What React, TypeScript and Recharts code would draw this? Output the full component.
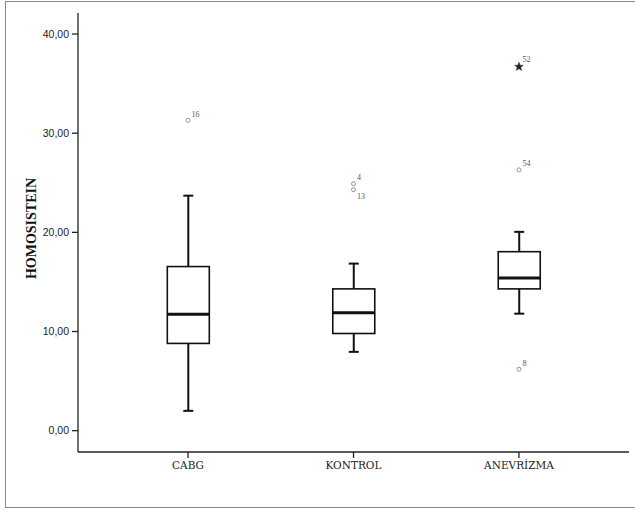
import React from 'react';
import { ComposedChart, Bar, Scatter, XAxis, YAxis } from 'recharts';

const categories = ['CABG', 'KONTROL', 'ANEVRİZMA'];
const whiskerLow = [2.0, 7.95, 11.8];
const quartile1 = [8.8, 9.8, 14.3];
const medians = [11.75, 11.9, 15.4];
const quartile3 = [16.55, 14.3, 18.05];
const whiskerHigh = [23.7, 16.85, 20.05];

const outlierGroup = [1, 2, 2, 3, 3, 3];
const outlierValues = [31.3, 24.9, 24.3, 36.7, 26.3, 6.2];
const outlierIds = ['16', '4', '13', '52', '54', '8'];
const outlierExtreme = [false, false, false, true, false, false];

const yTicks = [0, 10, 20, 30, 40];
const xTicks = [1, 2, 3];

const boxData = categories.map((c, i) => ({
  x: i + 1,
  name: c,
  range: [quartile1[i], quartile3[i]],
  lo: whiskerLow[i],
  q1: quartile1[i],
  med: medians[i],
  q3: quartile3[i],
  hi: whiskerHigh[i],
}));

const outlierData = outlierValues.map((v, i) => ({
  x: outlierGroup[i],
  y: v,
  id: outlierIds[i],
  extreme: outlierExtreme[i],
}));

const BoxShape = (props: any) => {
  const { x, y, width, height, payload } = props;
  const top = Math.min(y, y + height);
  const h = Math.abs(height);
  const k = h / (payload.q3 - payload.q1);
  const cx = x + width / 2;
  const yMed = top + (payload.q3 - payload.med) * k;
  const yHi = top - (payload.hi - payload.q3) * k;
  const yLo = top + h + (payload.q1 - payload.lo) * k;
  const cap = 5;
  return (
    <g>
      <line x1={cx} x2={cx} y1={yHi} y2={top} stroke="#111" strokeWidth={2} />
      <line x1={cx} x2={cx} y1={top + h} y2={yLo} stroke="#111" strokeWidth={2} />
      <line x1={cx - cap} x2={cx + cap} y1={yHi} y2={yHi} stroke="#111" strokeWidth={2} />
      <line x1={cx - cap} x2={cx + cap} y1={yLo} y2={yLo} stroke="#111" strokeWidth={2} />
      <rect x={x} y={top} width={width} height={h} fill="#fff" stroke="#111" strokeWidth={1.6} />
      <line x1={x} x2={x + width} y1={yMed} y2={yMed} stroke="#111" strokeWidth={3} />
    </g>
  );
};

const starPoints = (cx: number, cy: number, ro: number, ri: number) => {
  const pts: string[] = [];
  for (let i = 0; i < 10; i++) {
    const r = i % 2 === 0 ? ro : ri;
    const a = -Math.PI / 2 + (i * Math.PI) / 5;
    pts.push(`${cx + r * Math.cos(a)},${cy + r * Math.sin(a)}`);
  }
  return pts.join(' ');
};

const OutlierShape = (props: any) => {
  const { cx, cy, payload } = props;
  const below = payload.id === '13';
  return (
    <g>
      {payload.extreme ? (
        <polygon points={starPoints(cx, cy, 4.5, 1.9)} fill="#222" stroke="#222" strokeWidth={0.5} />
      ) : (
        <circle cx={cx} cy={cy} r={2} fill="#fff" stroke="#888" strokeWidth={0.9} />
      )}
      <text
        x={cx + 3.5}
        y={below ? cy + 9.5 : cy - (payload.extreme ? 5 : 3.5)}
        fontFamily="'Liberation Serif', serif"
        fontSize={8}
        fill="#555"
        stroke="none"
      >
        {payload.id}
      </text>
    </g>
  );
};

const fmt = (v: number) => v.toFixed(2).replace('.', ',');

export default function App() {
  return (
    <div style={{ position: 'absolute', left: 0, top: 0, width: 635, height: 513, overflow: 'hidden', background: '#fff' }}>
      <div
        style={{
          position: 'absolute',
          left: 5,
          top: 1,
          width: 640,
          height: 507,
          border: '1px solid #8a8a8a',
          boxSizing: 'border-box',
        }}
      />
      <div style={{ position: 'absolute', left: 0, top: 0 }}>
        <ComposedChart
          width={635}
          height={513}
          data={boxData}
          margin={{ top: 13, right: 6, bottom: 31, left: 0 }}
        >
          <XAxis
            dataKey="x"
            type="number"
            domain={[0.335, 3.665]}
            ticks={xTicks}
            allowDataOverflow
            tickFormatter={(v: number) => categories[v - 1]}
            height={30}
            tickSize={6}
            tickMargin={4}
            axisLine={{ stroke: '#222', strokeWidth: 1.3 }}
            tickLine={{ stroke: '#222', strokeWidth: 1.3 }}
            tick={{ fontFamily: "'DejaVu Serif', serif", fontSize: 10.5, fill: '#222' }}
          />
          <XAxis
            xAxisId="top"
            orientation="top"
            type="number"
            domain={[0, 1]}
            height={0}
            tick={false}
            tickLine={false}
            axisLine={{ stroke: '#222', strokeWidth: 1.3 }}
          />
          <YAxis
            type="number"
            domain={[-2.15, 42.12]}
            ticks={yTicks}
            allowDataOverflow
            width={78}
            tickSize={6}
            tickMargin={3}
            tickFormatter={fmt}
            axisLine={{ stroke: '#222', strokeWidth: 1.3 }}
            tickLine={{ stroke: '#222', strokeWidth: 1.3 }}
            tick={{ fontFamily: "'Liberation Sans', sans-serif", fontSize: 10.5, fill: '#222' }}
            label={{
              content: (p: any) => {
                const vb = p.viewBox || { x: 0, y: 13, width: 78, height: 439 };
                const cx = vb.x + 36;
                const cy = vb.y + vb.height / 2 - 4;
                return (
                  <text
                    x={cx}
                    y={cy}
                    transform={`rotate(-90 ${cx} ${cy})`}
                    textAnchor="middle"
                    fontFamily="'Liberation Serif', serif"
                    fontWeight="bold"
                    fontSize={14}
                    fill="#111"
                  >
                    HOMOSISTEIN
                  </text>
                );
              },
            }}
          />
          <YAxis
            yAxisId="right"
            orientation="right"
            type="number"
            domain={[0, 1]}
            width={0}
            tick={false}
            tickLine={false}
            axisLine={{ stroke: '#222', strokeWidth: 1.3 }}
          />
          <Bar dataKey="range" barSize={42} shape={BoxShape} isAnimationActive={false} />
          <Scatter data={outlierData} dataKey="y" shape={OutlierShape} isAnimationActive={false} />
        </ComposedChart>
      </div>
    </div>
  );
}
